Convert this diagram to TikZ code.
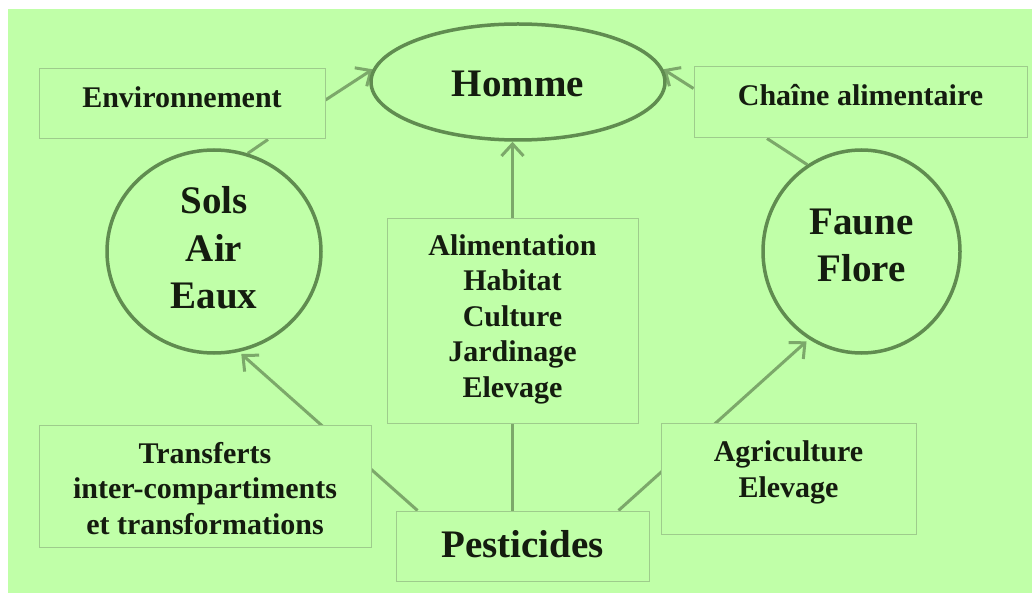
\documentclass[tikz,border=0pt]{standalone}
\usepackage{fontspec}
\setmainfont{Liberation Serif}
\usetikzlibrary{arrows.meta,shapes.geometric}
\definecolor{bggreen}{RGB}{192,255,168}
\definecolor{ringcol}{RGB}{96,140,80}
\definecolor{arrcol}{RGB}{124,168,106}
\definecolor{boxcol}{RGB}{158,204,140}
\definecolor{txtcol}{RGB}{20,28,15}
\pgfdeclarelayer{back}
\pgfdeclarelayer{lines}
\pgfsetlayers{back,lines,main}
\tikzset{
  box/.style={draw=boxcol, line width=1pt, fill=bggreen, rectangle, inner sep=0pt},
  ring/.style={draw=ringcol, line width=3.5pt, ellipse, inner sep=0pt},
  txt/.style={text=txtcol, inner sep=0pt, align=center, font=\bfseries\fontsize{30}{35.5}\selectfont},
  bigtxt/.style={text=txtcol, inner sep=0pt, align=center, font=\bfseries\fontsize{39}{47}\selectfont},
  arr/.style={draw=arrcol, line width=3pt, -{Straight Barb[length=12pt,width=22pt,line width=3pt]}},
  link/.style={draw=arrcol, line width=3pt},
}
\begin{document}
\begin{tikzpicture}[x=1pt,y=-1pt]
\useasboundingbox (0,0) rectangle (1032,593);
\begin{pgfonlayer}{back}
\fill[white] (0,0) rectangle (1032,593);
\fill[bggreen] (8,9) rectangle (1032,593);
\end{pgfonlayer}
% shapes
\node[ring, minimum width=294pt, minimum height=116pt] (hom) at (518,82) {};
\node[ring, minimum width=214pt, minimum height=203pt] (sols) at (214,251.5) {};
\node[ring, minimum width=197pt, minimum height=203pt] (faune) at (861.5,251.5) {};
\node[box, minimum width=286pt, minimum height=70pt] (env) at (182,104) {};
\node[box, minimum width=333pt, minimum height=71pt] (chain) at (860.5,102.5) {};
\node[box, minimum width=251pt, minimum height=204pt] (cen) at (512.5,321) {};
\node[box, minimum width=332pt, minimum height=122pt] (trans) at (205,486) {};
\node[box, minimum width=255pt, minimum height=111pt] (agri) at (788.5,478.5) {};
\node[box, minimum width=253pt, minimum height=70pt] (pest) at (522.5,546) {};
% texts (base anchor = baseline of the last line)
\node[bigtxt, anchor=base] (thom) at (518,97) {Homme};
\node[txt, anchor=base] (tenv) at (182,108) {Environnement};
\node[txt, anchor=base] (tchain) at (860.5,106) {Chaîne alimentaire};
\node[bigtxt, anchor=base] (tsols) at (214,308) {Sols\\Air\\Eaux};
\node[bigtxt, anchor=base] (tfaune) at (861.5,282) {Faune\\Flore};
\node[txt, anchor=base] (tcen) at (512.5,397) {Alimentation\\Habitat\\Culture\\Jardinage\\Elevage};
\node[txt, anchor=base] (ttrans) at (205,534) {Transferts\\inter-compartiments\\et transformations};
\node[txt, anchor=base] (tagri) at (788.5,497) {Agriculture\\Elevage};
\node[bigtxt, anchor=base] (tpest) at (522.5,557) {Pesticides};
% connectors
\begin{pgfonlayer}{lines}
\draw[arr] ([yshift=4pt]env.east) -- (hom.175);
\draw[arr] ([yshift=14pt]chain.west) -- (hom.5);
\draw[arr] (cen.north) -- (cen.north |- hom.south);
\draw[link] (pest.north -| cen.south) -- (cen.south);
\draw[link] (sols.71) -- ([xshift=86pt]env.south);
\draw[link] (faune.122) -- ([xshift=-93.5pt]chain.south);
\draw[arr, shorten >=3pt] ([xshift=22pt]pest.north west) -- (sols.-76);
\draw[arr, shorten >=3pt] ([xshift=-31pt]pest.north east) -- (faune.239);
\end{pgfonlayer}
\end{tikzpicture}
\end{document}
